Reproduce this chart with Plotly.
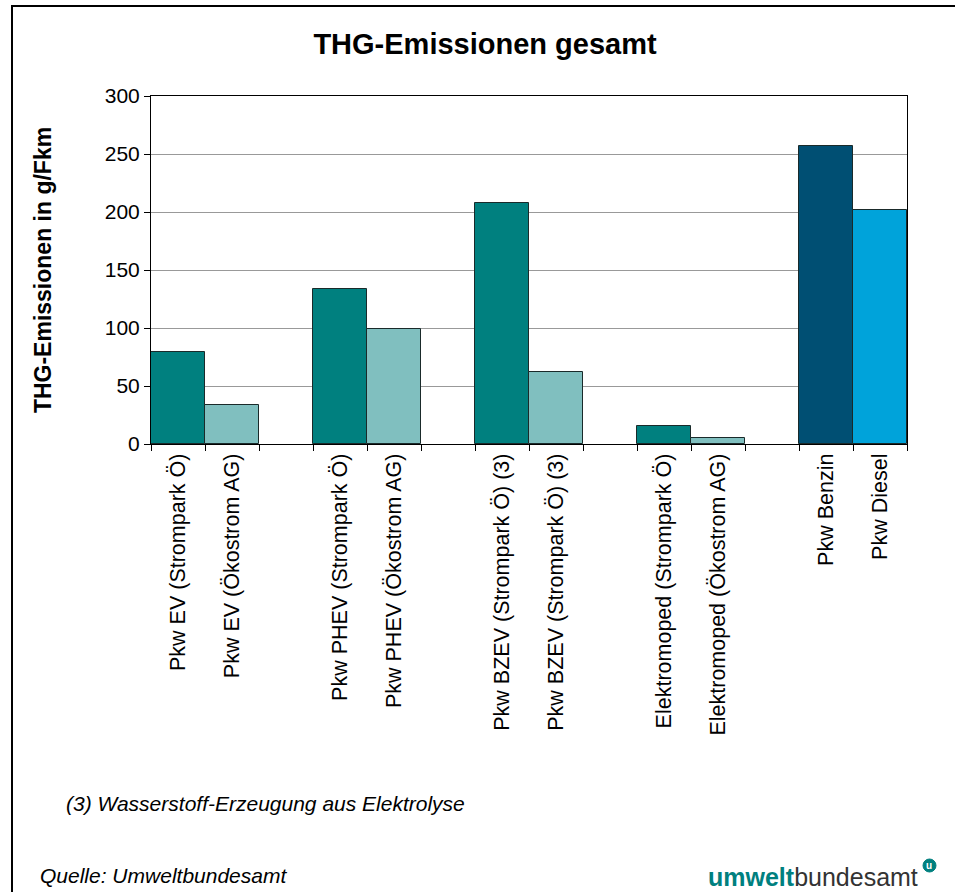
import plotly.graph_objects as go

# Data
categories = [
    "Pkw EV (Strompark Ö)", "Pkw EV (Ökostrom AG)", "",
    "Pkw PHEV (Strompark Ö)", "Pkw PHEV (Ökostrom AG)", "",
    "Pkw BZEV (Strompark Ö) (3)", "Pkw BZEV (Strompark Ö) (3)", "",
    "Elektromoped (Strompark Ö)", "Elektromoped (Ökostrom AG)", "",
    "Pkw Benzin", "Pkw Diesel",
]
values = [79, 34, None, 134, 99, None, 208, 62, None, 15.5, 5, None, 257, 202]
bar_colors = ["#00807F", "#80BFBF", "#FFFFFF", "#00807F", "#80BFBF", "#FFFFFF",
              "#00807F", "#80BFBF", "#FFFFFF", "#00807F", "#80BFBF", "#FFFFFF",
              "#004F73", "#00A3DA"]
y_ticks = [0, 50, 100, 150, 200, 250, 300]

W, H = 955, 892
L, R, T, B = 151, 48, 96, 448
pw, ph = W - L - R, H - T - B

def px(x):
    return (x - L) / pw

def py(y):
    return (H - B - y) / ph

positions = list(range(len(categories)))
xs = [p for p, v in zip(positions, values) if v is not None]
ys = [v for v in values if v is not None]
cs = [c for c, v in zip(bar_colors, values) if v is not None]
labels = [c for c, v in zip(categories, values) if v is not None]

fig = go.Figure()
fig.add_trace(go.Bar(
    x=xs, y=ys, width=1,
    marker=dict(color=cs, line=dict(color="#1a2a2a", width=1)),
    hoverinfo="y", showlegend=False,
))
fig.add_trace(go.Scatter(x=[-0.5, len(categories) - 0.5], y=[0, 0], xaxis="x2",
                         mode="lines", line=dict(width=0), showlegend=False,
                         hoverinfo="skip"))

font = "Liberation Sans, Arial, sans-serif"
fig.update_layout(
    width=W, height=H,
    margin=dict(l=L, r=R, t=T, b=B),
    paper_bgcolor="white", plot_bgcolor="white",
    font=dict(family=font, color="black"),
    title=dict(text="<b>THG-Emissionen gesamt</b>", x=485 / W, xanchor="center",
               y=1 - 44 / H, yanchor="middle", font=dict(size=29)),
    bargap=0,
    xaxis=dict(
        range=[-0.5, len(categories) - 0.5],
        tickmode="array", tickvals=xs, ticktext=labels,
        tickangle=-90, ticks="", tickfont=dict(size=21.5),
        showgrid=False, zeroline=False,
        showline=True, linecolor="black", linewidth=1, mirror=True,
    ),
    xaxis2=dict(
        range=[-0.5, len(categories) - 0.5], overlaying="x",
        tickmode="linear", tick0=-0.5, dtick=1,
        ticks="outside", ticklen=6, tickcolor="black",
        showticklabels=False, showgrid=False, zeroline=False, showline=False,
        anchor="y",
    ),
    yaxis=dict(
        range=[0, 300], tickvals=y_ticks, ticks="outside", ticklen=6,
        tickcolor="black", tickfont=dict(size=21),
        showgrid=True, gridcolor="#999999", gridwidth=1,
        zeroline=False, showline=True, linecolor="black", linewidth=1, mirror=True,
        title=dict(text="<b>THG-Emissionen in g/Fkm</b>", font=dict(size=23), standoff=46),
    ),
    shapes=[
        dict(type="rect", xref="paper", yref="paper",
             x0=px(12), x1=px(W + 30), y0=py(H + 30), y1=py(6),
             line=dict(color="black", width=2), fillcolor="rgba(0,0,0,0)", layer="below"),
        dict(type="circle", xref="paper", yref="paper",
             x0=px(923), x1=px(936), y0=py(872), y1=py(859),
             line=dict(color="#00807F", width=1), fillcolor="#00807F"),
    ],
    annotations=[
        dict(text="<i>(3) Wasserstoff-Erzeugung aus Elektrolyse</i>", xref="paper", yref="paper",
             x=px(64), y=py(803), xanchor="left", yanchor="middle", showarrow=False,
             font=dict(size=21)),
        dict(text="<i>Quelle: Umweltbundesamt</i>", xref="paper", yref="paper",
             x=px(38), y=py(876), xanchor="left", yanchor="middle", showarrow=False,
             font=dict(size=21)),
        dict(text="<b><span style='color:#00807F'>umwelt</span></b><span style='color:#333333'>bundesamt</span>",
             xref="paper", yref="paper", x=px(706), y=py(877), xanchor="left", yanchor="middle",
             showarrow=False, font=dict(size=25, family=font)),
        dict(text="<b>u</b>", xref="paper", yref="paper", x=px(929.5), y=py(865),
             xanchor="center", yanchor="middle", showarrow=False,
             font=dict(size=10, color="white")),
    ],
)

fig.write_html("out.html", config={"displayModeBar": False},
               post_script="document.body.style.margin='0';document.body.style.overflow='hidden';")
